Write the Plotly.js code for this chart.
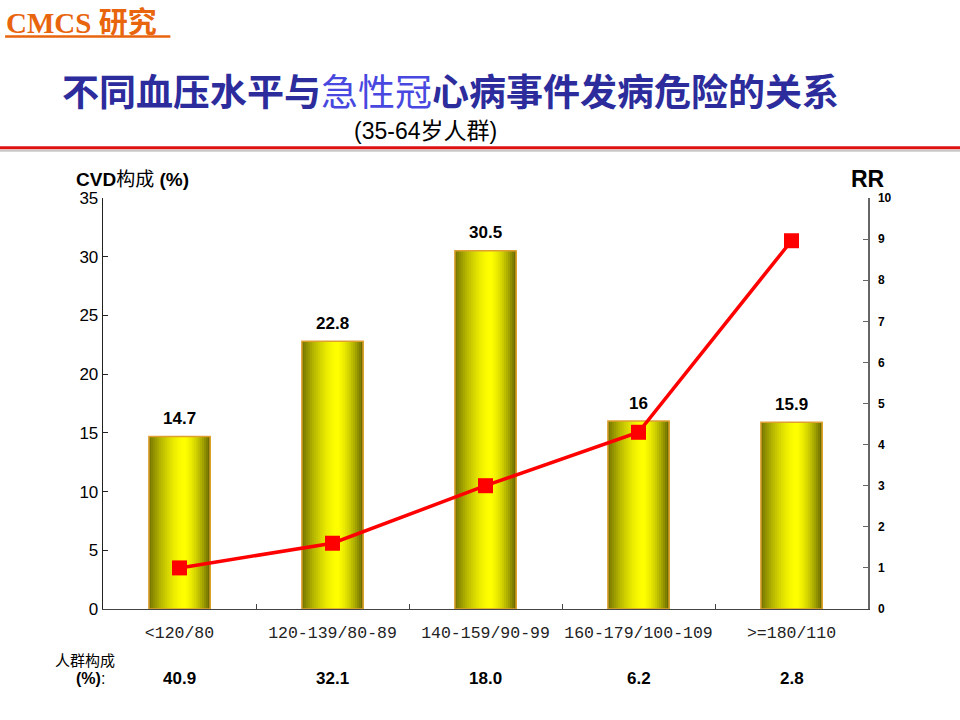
<!DOCTYPE html>
<html>
<head>
<meta charset="utf-8">
<script src="https://cdn.plot.ly/plotly-3.0.1.min.js"></script>
<style>
  body { margin: 0; background: #fff; }
  #chart { width: 960px; height: 720px; }
</style>
</head>
<body>
<div id="chart"></div>
<script>
var groups = ['<120/80', '120-139/80-89', '140-159/90-99', '160-179/100-109', '>=180/110'];
var cvdShare = [14.7, 22.8, 30.5, 16, 15.9];
var rr = [1.0, 1.6, 3.0, 4.3, 8.96];
var popShare = ['40.9', '32.1', '18.0', '6.2', '2.8'];

var barWidth = 0.4;
var strips = 30;
var cjk = 'Liberation Sans, Noto Sans CJK SC, sans-serif';

// shade for a cylinder look: dark olive at the edges, bright yellow a bit right of centre
function shade(t) {
  var peak = 0.58;
  var d = t < peak ? (peak - t) / peak : (t - peak) / (1 - peak);
  var k = 1 - 0.55 * Math.pow(d, 1.6);
  if (t > peak) k -= 0.06 * d;
  var v = Math.round(255 * k);
  return 'rgb(' + v + ',' + v + ',0)';
}

var data = [];
// each strip runs from its own left edge to the bar's right edge, so no seams show
for (var i = 0; i < strips; i++) {
  var w = barWidth / strips;
  data.push({
    type: 'bar',
    x: groups,
    y: cvdShare,
    width: barWidth - i * w,
    offset: -barWidth / 2 + i * w,
    marker: { color: shade((i + 0.5) / strips), line: { width: 0 } },
    hoverinfo: 'skip',
    showlegend: false
  });
}

// outline
data.push({
  type: 'bar',
  x: groups,
  y: cvdShare,
  width: barWidth,
  offset: -barWidth / 2,
  marker: { color: 'rgba(0,0,0,0)', line: { color: '#e0a030', width: 1.5 } },
  hoverinfo: 'skip',
  showlegend: false
});

data.push({
  type: 'scatter',
  mode: 'lines+markers',
  x: groups,
  y: rr,
  yaxis: 'y2',
  line: { color: '#ff0000', width: 3.5 },
  marker: { symbol: 'square', size: 15, color: '#ff0000' },
  cliponaxis: false,
  hoverinfo: 'skip',
  showlegend: false
});

var annotations = [
  { text: 'CMCS <span style="font-family:Noto Sans CJK SC">研究</span>', xref: 'paper', yref: 'paper',
    x: -0.129, y: 1.434, xanchor: 'left', yanchor: 'middle', showarrow: false,
    font: { family: 'Liberation Serif, serif', size: 29, color: '#e8650e', weight: 'bold' } },
  { text: '<b>不同血压水平与</b><span style="color:#4848e0">急性冠</span><b>心病事件发病危险的关系</b>',
    xref: 'paper', yref: 'paper', x: 0.454, y: 1.262, xanchor: 'center', yanchor: 'middle', showarrow: false,
    font: { family: 'Noto Sans CJK SC', size: 37, color: '#2c2c9c' } },
  { text: '(35-64岁人群)', xref: 'paper', yref: 'paper', x: 0.421, y: 1.163,
    xanchor: 'center', yanchor: 'middle', showarrow: false,
    font: { family: cjk, size: 23, color: '#000' } },
  { text: '<b>CVD</b>构成 <b>(%)</b>', xref: 'paper', yref: 'paper', x: -0.038, y: 1.046,
    xanchor: 'left', yanchor: 'middle', showarrow: false,
    font: { family: cjk, size: 19, color: '#000' } },
  { text: '<b>RR</b>', xref: 'paper', yref: 'paper', x: 1.0, y: 1.046,
    xanchor: 'center', yanchor: 'middle', showarrow: false,
    font: { family: 'Liberation Sans, Arial', size: 23, color: '#000' } },
  { text: '人群构成', xref: 'paper', yref: 'paper', x: -0.066, y: -0.124,
    xanchor: 'left', yanchor: 'middle', showarrow: false,
    font: { family: 'Noto Sans CJK SC', size: 15, color: '#000' } },
  { text: '<b>(%)</b>:', xref: 'paper', yref: 'paper', x: -0.038, y: -0.168,
    xanchor: 'left', yanchor: 'middle', showarrow: false,
    font: { family: 'Liberation Sans, Arial', size: 16, color: '#000' } }
];
for (var j = 0; j < groups.length; j++) {
  // value above each bar
  annotations.push({
    text: String(cvdShare[j]), x: groups[j], y: cvdShare[j], xref: 'x', yref: 'y',
    yshift: 18, xanchor: 'center', yanchor: 'middle', showarrow: false,
    font: { family: 'Liberation Sans, Arial', size: 17, color: '#000', weight: 'bold' }
  });
  // population share row under the axis
  annotations.push({
    text: popShare[j], x: groups[j], xref: 'x', yref: 'paper', y: -0.168,
    xanchor: 'center', yanchor: 'middle', showarrow: false,
    font: { family: 'Liberation Sans, Arial', size: 17, color: '#000', weight: 'bold' }
  });
}

var layout = {
  width: 960,
  height: 720,
  margin: { l: 103, r: 92, t: 198, b: 111 },
  paper_bgcolor: '#fff',
  plot_bgcolor: '#fff',
  barmode: 'overlay',
  showlegend: false,
  xaxis: {
    type: 'category',
    showline: true, linecolor: '#444', linewidth: 1.3,
    ticks: 'inside', tickson: 'boundaries', ticklen: 5, tickcolor: '#444',
    tickangle: 0, ticklabelstandoff: 8,
    tickfont: { family: 'Liberation Mono, monospace', size: 16.5, color: '#222' },
    showgrid: false, zeroline: false, fixedrange: true
  },
  yaxis: {
    range: [0, 35], dtick: 5,
    showline: true, linecolor: '#222', linewidth: 1.3,
    ticks: 'inside', ticklen: 5, tickcolor: '#222',
    tickfont: { family: 'Liberation Sans, Arial', size: 17, color: '#000' },
    showgrid: false, zeroline: false, fixedrange: true
  },
  yaxis2: {
    overlaying: 'y', side: 'right',
    range: [0, 10], dtick: 1,
    showline: true, linecolor: '#666', linewidth: 1.5,
    ticks: 'inside', ticklen: 5, tickcolor: '#666',
    tickfont: { family: 'Liberation Sans, Arial', size: 12, color: '#000', weight: 'bold' },
    ticklabelstandoff: 6,
    showgrid: false, zeroline: false, fixedrange: true
  },
  shapes: [
    { type: 'line', xref: 'paper', yref: 'paper', x0: -0.14, x1: 1.13, y0: 1.115, y1: 1.115,
      line: { color: '#c8c8c8', width: 2 } },
    { type: 'line', xref: 'paper', yref: 'paper', x0: -0.14, x1: 1.13, y0: 1.122, y1: 1.122,
      line: { color: '#dd1111', width: 3 } },
    { type: 'line', xref: 'paper', yref: 'paper', x0: -0.128, x1: 0.088, y0: 1.393, y1: 1.393,
      line: { color: '#e8650e', width: 2.5 } }
  ],
  annotations: annotations
};

Plotly.newPlot('chart', data, layout, { displayModeBar: false, staticPlot: true });
</script>
</body>
</html>
